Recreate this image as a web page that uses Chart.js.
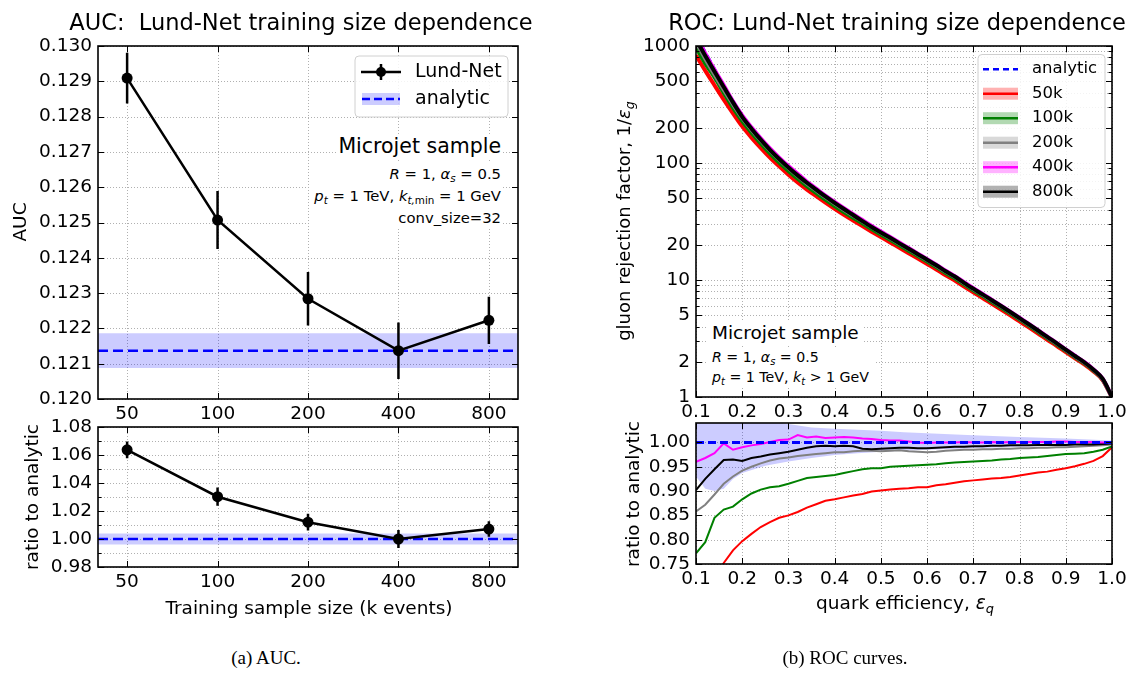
<!DOCTYPE html>
<html>
<head>
<meta charset="utf-8">
<script src="https://cdn.jsdelivr.net/npm/chart.js@4.4.0/dist/chart.umd.min.js"></script>
<style>
  body { margin: 0; width: 1131px; height: 675px; position: relative; overflow: hidden; background: #fff; font-family: "DejaVu Sans", sans-serif; color: #000; }
  canvas { position: absolute; }
  .t { position: absolute; white-space: nowrap; line-height: 1; }
  .c { transform: translate(-50%, -50%); }
  .v { transform: translate(-50%, -50%) rotate(-90deg); }
  .cap { font-family: "Liberation Serif", serif; font-size: 19px; }
  sub { font-size: 70%; vertical-align: -0.3em; line-height: 0; }
  .box { position: absolute; background: #fff; white-space: nowrap; }
</style>
</head>
<body>

<canvas id="cA"></canvas>
<canvas id="cB"></canvas>
<canvas id="cC"></canvas>
<canvas id="cD"></canvas>

<!-- titles / axis labels -->
<div class="t c" style="left:301px;top:22px;font-size:22.5px">AUC:&nbsp; Lund-Net training size dependence</div>
<div class="t c" style="left:897px;top:22px;font-size:22.5px">ROC: Lund-Net training size dependence</div>
<div class="t v" style="left:20px;top:222px;font-size:18.5px">AUC</div>
<div class="t v" style="left:32px;top:497px;font-size:18.5px">ratio to analytic</div>
<div class="t c" style="left:309px;top:608px;font-size:18.5px">Training sample size (k events)</div>
<div class="t v" style="left:624px;top:221px;font-size:18px">gluon rejection factor, 1/<i>ε<sub>g</sub></i></div>
<div class="t v" style="left:633px;top:494px;font-size:18.5px">ratio to analytic</div>
<div class="t c" style="left:905px;top:603px;font-size:18.5px">quark efficiency, <i>ε<sub>q</sub></i></div>
<div class="t c cap" style="left:266px;top:657px">(a) AUC.</div>
<div class="t c cap" style="left:845px;top:657px">(b) ROC curves.</div>

<!-- annotations -->
<div class="box" style="right:628px;top:134px;font-size:20.5px;line-height:25px;padding:0 2px">Microjet sample</div>
<div class="box" style="right:628px;top:163px;font-size:14.8px;line-height:22px;text-align:right;padding:0 2px 0 4px">
  <i>R</i> = 1, <i>α<sub>s</sub></i> = 0.5<br>
  <i>p<sub>t</sub></i> = 1 TeV, <i>k<sub>t,</sub></i><sub>min</sub> = 1 GeV<br>
  conv_size=32
</div>
<div class="box" style="left:708px;top:321px;font-size:18.5px;line-height:24px;padding:0 4px">Microjet sample</div>
<div class="box" style="left:708px;top:347px;font-size:14.2px;line-height:20px;padding:0 6px 0 4px">
  <i>R</i> = 1, <i>α<sub>s</sub></i> = 0.5<br>
  <i>p<sub>t</sub></i> = 1 TeV, <i>k<sub>t</sub></i> &gt; 1 GeV
</div>

<script>
// ---- AUC vs training size ----
const trainSizes = [50, 100, 200, 400, 800];
const aucXLimits = [40, 1000];
const aucLund = [0.12909, 0.12507, 0.12284, 0.12137, 0.12223];
const aucLundErr = [0.00072, 0.00082, 0.00076, 0.00080, 0.00067];
const aucAnalytic = 0.12137;
const aucAnalyticErr = 0.00049;
const aucYTicks = [0.120, 0.121, 0.122, 0.123, 0.124, 0.125, 0.126, 0.127, 0.128, 0.129, 0.130];

const ratioLund = [1.0637, 1.0302, 1.0120, 1.0000, 1.0071];
const ratioLundErr = [0.0060, 0.0065, 0.0060, 0.0065, 0.0055];
const ratioAnalytic = 1.0;
const ratioAnalyticErr = 0.004;
const ratioLeftTicks = [0.98, 1.00, 1.02, 1.04, 1.06, 1.08];
const ratioLeftMinor = [0.99, 1.01, 1.03, 1.05, 1.07];

// ---- ROC curves ----
const effQ = [0.10, 0.12, 0.14, 0.16, 0.18, 0.20, 0.22, 0.24, 0.26, 0.28,
              0.30, 0.32, 0.34, 0.36, 0.38, 0.40, 0.42, 0.44, 0.46, 0.48,
              0.50, 0.52, 0.54, 0.56, 0.58, 0.60, 0.62, 0.64, 0.66, 0.68,
              0.70, 0.72, 0.74, 0.76, 0.78, 0.80, 0.82, 0.84, 0.86, 0.88,
              0.90, 0.92, 0.94, 0.96, 0.98, 1.00];
const rejAnalytic = [1262, 893, 640, 463, 342, 258, 203, 163, 133, 110.7,
                     93.5, 79.6, 68.5, 59.7, 52.2, 46.0, 40.7, 36.2, 32.3, 28.8,
                     25.8, 23.2, 20.8, 18.7, 16.8, 15.1, 13.5, 12.0, 10.8, 9.55,
                     8.5, 7.6, 6.76, 6.03, 5.36, 4.75, 4.21, 3.72, 3.28, 2.9,
                     2.55, 2.25, 1.99, 1.72, 1.43, 1.0];
const ratio50k = [0.660, 0.690, 0.722, 0.752, 0.778, 0.797, 0.812, 0.826, 0.836, 0.845,
                  0.850, 0.857, 0.866, 0.873, 0.880, 0.883, 0.887, 0.891, 0.894, 0.899,
                  0.901, 0.903, 0.905, 0.906, 0.908, 0.908, 0.912, 0.914, 0.917, 0.920,
                  0.922, 0.924, 0.926, 0.927, 0.929, 0.932, 0.935, 0.938, 0.940, 0.944,
                  0.947, 0.951, 0.956, 0.962, 0.972, 0.990];
const ratio100k = [0.772, 0.795, 0.845, 0.862, 0.868, 0.883, 0.895, 0.903, 0.908, 0.910,
                   0.915, 0.921, 0.927, 0.929, 0.931, 0.933, 0.937, 0.941, 0.945, 0.947,
                   0.947, 0.950, 0.951, 0.952, 0.953, 0.954, 0.955, 0.957, 0.959, 0.960,
                   0.961, 0.962, 0.963, 0.965, 0.966, 0.968, 0.969, 0.970, 0.972, 0.974,
                   0.976, 0.977, 0.978, 0.981, 0.985, 0.992];
const ratio200k = [0.858, 0.872, 0.893, 0.915, 0.930, 0.942, 0.950, 0.957, 0.963, 0.967,
                   0.969, 0.972, 0.974, 0.976, 0.978, 0.980, 0.980, 0.982, 0.983, 0.983,
                   0.982, 0.983, 0.984, 0.982, 0.981, 0.980, 0.981, 0.983, 0.984, 0.985,
                   0.985, 0.986, 0.986, 0.987, 0.987, 0.988, 0.988, 0.989, 0.989, 0.990,
                   0.990, 0.991, 0.992, 0.993, 0.994, 0.996];
const ratio400k = [0.960, 0.968, 0.978, 0.998, 0.985, 0.990, 0.994, 0.997, 1.001, 1.005,
                   1.006, 1.015, 1.010, 1.012, 1.009, 1.010, 1.011, 1.010, 1.008, 1.007,
                   1.005, 1.004, 1.004, 1.002, 1.000, 0.999, 1.000, 1.000, 1.000, 1.001,
                   1.000, 1.000, 1.001, 1.000, 1.001, 1.001, 1.001, 1.001, 1.001, 1.002,
                   1.002, 1.001, 1.001, 1.001, 1.000, 1.000];
const ratio800k = [0.902, 0.925, 0.945, 0.964, 0.965, 0.962, 0.968, 0.971, 0.975, 0.978,
                   0.981, 0.985, 0.989, 0.992, 0.993, 0.992, 0.993, 0.992, 0.987, 0.986,
                   0.987, 0.988, 0.989, 0.989, 0.988, 0.988, 0.989, 0.990, 0.991, 0.991,
                   0.992, 0.992, 0.993, 0.993, 0.994, 0.994, 0.994, 0.995, 0.995, 0.995,
                   0.995, 0.996, 0.996, 0.996, 0.997, 0.998];
const bandEff = [0.10, 0.12, 0.14, 0.16, 0.18, 0.20, 0.25, 0.30, 0.35, 0.40, 0.45, 0.50, 0.55, 0.60, 0.70, 0.80, 0.90, 1.00];
const bandLo  = [0.930, 0.905, 0.900, 0.905, 0.925, 0.937, 0.952, 0.961, 0.968, 0.974, 0.978, 0.981, 0.983, 0.985, 0.988, 0.991, 0.994, 0.997];
const bandHi  = [1.100, 1.090, 1.080, 1.070, 1.060, 1.055, 1.045, 1.038, 1.031, 1.028, 1.026, 1.024, 1.021, 1.019, 1.015, 1.011, 1.008, 1.004];

const rocXLimits = [0.1, 1.0];
const rocXTicks = [0.1, 0.2, 0.3, 0.4, 0.5, 0.6, 0.7, 0.8, 0.9, 1.0];
const rocYTicks = [1, 2, 5, 10, 20, 50, 100, 200, 500, 1000];
const rocYMinor = [3, 4, 6, 7, 8, 9, 30, 40, 60, 70, 80, 90, 300, 400, 600, 700, 800, 900];
const ratioRightTicks = [0.75, 0.80, 0.85, 0.90, 0.95, 1.00];
const rocLabels = ['analytic', '50k', '100k', '200k', '400k', '800k'];

// ---- helpers ----
const pts = (xs, ys) => xs.map((x, i) => ({ x, y: ys[i] }));
const FONT = 'DejaVu Sans';
const TICK = 18.5;

function line(data, color, width, extra) {
  return Object.assign({ data, borderColor: color, backgroundColor: color, borderWidth: width,
    pointRadius: 0, fill: false, tension: 0 }, extra || {});
}

function axis(type, min, max, ticks, fmt, fixed, isX) {
  return {
    type, min, max, bounds: 'data',
    grid: { display: false, drawTicks: false },
    border: { display: false },
    ticks: { autoSkip: false, maxRotation: 0, minRotation: 0, padding: isX ? 4 : 6, color: '#000',
      font: { family: FONT, size: TICK }, callback: fmt },
    afterBuildTicks: s => { s.ticks = ticks.map(v => ({ value: v })); },
    afterFit: s => {
      if (isX) { s.height = fixed; s.paddingLeft = 0; s.paddingRight = 0; }
      else { s.width = fixed; s.paddingTop = 0; s.paddingBottom = 0; }
    }
  };
}

function frame(g) {
  return {
    id: 'frame',
    beforeDatasetsDraw(chart) {
      const { ctx, chartArea: a, scales: { x, y } } = chart;
      ctx.save();
      ctx.strokeStyle = '#b0b0b0'; ctx.lineWidth = 1; ctx.setLineDash([1, 2]);
      ctx.beginPath();
      g.xGrid.forEach(v => { const p = Math.round(x.getPixelForValue(v)) + 0.5; ctx.moveTo(p, a.top); ctx.lineTo(p, a.bottom); });
      g.yGrid.forEach(v => { const p = Math.round(y.getPixelForValue(v)) + 0.5; ctx.moveTo(a.left, p); ctx.lineTo(a.right, p); });
      ctx.stroke();
      ctx.restore();
    },
    afterDraw(chart) {
      const { ctx, chartArea: a, scales: { x, y } } = chart;
      ctx.save();
      ctx.strokeStyle = '#000'; ctx.lineWidth = 1;
      ctx.beginPath();
      const tx = (vals, len) => vals.forEach(v => {
        const p = Math.round(x.getPixelForValue(v)) + 0.5;
        ctx.moveTo(p, a.bottom); ctx.lineTo(p, a.bottom - len);
        ctx.moveTo(p, a.top); ctx.lineTo(p, a.top + len);
      });
      const ty = (vals, len) => vals.forEach(v => {
        const p = Math.round(y.getPixelForValue(v)) + 0.5;
        ctx.moveTo(a.left, p); ctx.lineTo(a.left + len, p);
        ctx.moveTo(a.right, p); ctx.lineTo(a.right - len, p);
      });
      tx(g.xMajor, 6); tx(g.xMinor || [], 3.5);
      ty(g.yMajor, 6); ty(g.yMinor || [], 3.5);
      ctx.stroke();
      ctx.lineWidth = 1.6;
      ctx.strokeRect(a.left, a.top, a.right - a.left, a.bottom - a.top);
      ctx.restore();
    }
  };
}

function errorBars(xs, ys, errs) {
  return {
    id: 'errorBars',
    afterDatasetsDraw(chart) {
      const { ctx, scales: { x, y } } = chart;
      ctx.save();
      ctx.strokeStyle = '#000'; ctx.lineWidth = 2.5;
      ctx.beginPath();
      xs.forEach((v, i) => {
        const px = x.getPixelForValue(v);
        ctx.moveTo(px, y.getPixelForValue(ys[i] - errs[i]));
        ctx.lineTo(px, y.getPixelForValue(ys[i] + errs[i]));
      });
      ctx.stroke();
      ctx.restore();
    }
  };
}

function legendBox(ctx, L, T, W, H) {
  ctx.beginPath();
  ctx.roundRect(L, T, W, H, 4);
  ctx.fillStyle = 'rgba(255,255,255,0.85)'; ctx.fill();
  ctx.strokeStyle = '#d0d0d0'; ctx.lineWidth = 1; ctx.stroke();
}

const legendAUC = {
  id: 'legendAUC',
  afterDraw(chart) {
    const { ctx, chartArea: a } = chart;
    const L = a.right - 163, T = a.top + 10;
    ctx.save();
    legendBox(ctx, L, T, 153, 61);
    const y1 = T + 16, y2 = T + 43;
    ctx.strokeStyle = '#000'; ctx.lineWidth = 2.5;
    ctx.beginPath();
    ctx.moveTo(L + 6, y1); ctx.lineTo(L + 46, y1);
    ctx.moveTo(L + 26, y1 - 8); ctx.lineTo(L + 26, y1 + 8);
    ctx.stroke();
    ctx.fillStyle = '#000'; ctx.beginPath(); ctx.arc(L + 26, y1, 5, 0, Math.PI * 2); ctx.fill();
    ctx.fillStyle = 'rgba(0,0,255,0.2)'; ctx.fillRect(L + 7, y2 - 6, 38, 12);
    ctx.strokeStyle = '#0000ff'; ctx.setLineDash([8, 4]);
    ctx.beginPath(); ctx.moveTo(L + 7, y2); ctx.lineTo(L + 45, y2); ctx.stroke();
    ctx.setLineDash([]);
    ctx.fillStyle = '#000'; ctx.font = '19px "' + FONT + '"'; ctx.textBaseline = 'middle';
    ctx.fillText('Lund-Net', L + 60, y1);
    ctx.fillText('analytic', L + 60, y2);
    ctx.restore();
  }
};

const rocColors = ['#0000ff', '#ff0000', '#008000', '#808080', '#ff00ff', '#000000'];
const rocBands = [null, 'rgba(255,0,0,0.3)', 'rgba(0,128,0,0.3)', 'rgba(128,128,128,0.3)', 'rgba(255,0,255,0.3)', 'rgba(0,0,0,0.3)'];

const legendROC = {
  id: 'legendROC',
  afterDraw(chart) {
    const { ctx, chartArea: a } = chart;
    const L = a.right - 134, T = a.top + 8.5;
    ctx.save();
    legendBox(ctx, L, T, 127, 153);
    ctx.font = '16.5px "' + FONT + '"'; ctx.textBaseline = 'middle';
    rocLabels.forEach((lab, i) => {
      const yy = T + 14.7 + i * 24.5;
      if (rocBands[i]) { ctx.fillStyle = rocBands[i]; ctx.fillRect(L + 5, yy - 6, 35, 12); }
      ctx.strokeStyle = rocColors[i]; ctx.lineWidth = 2.5;
      ctx.setLineDash(i === 0 ? [6, 4] : []);
      ctx.beginPath(); ctx.moveTo(L + 5, yy); ctx.lineTo(L + 40, yy); ctx.stroke();
      ctx.setLineDash([]);
      ctx.fillStyle = '#000'; ctx.fillText(lab, L + 54, yy);
    });
    ctx.restore();
  }
};

function place(id, plot, yW, xH) {
  const c = document.getElementById(id);
  const padT = 14, padR = 30;
  c.width = yW + plot.w + padR;
  c.height = padT + plot.h + xH;
  c.style.left = (plot.l - yW) + 'px';
  c.style.top = (plot.t - padT) + 'px';
  return { padding: { left: 0, top: padT, right: padR, bottom: 0 } };
}

const base = { responsive: false, animation: false, events: [],
  plugins: { legend: { display: false }, tooltip: { enabled: false } } };

// ---- panel A: AUC ----
const plotA = { l: 98, t: 46, w: 420, h: 353.5 };
new Chart(document.getElementById('cA'), {
  type: 'line',
  data: { datasets: [
    line(pts(trainSizes, aucLund), '#000', 2.5, { pointRadius: 5.5, pointBorderWidth: 0, pointBackgroundColor: '#000' }),
    line(pts(aucXLimits, [aucAnalytic, aucAnalytic]), '#0000ff', 2.5, { borderDash: [10, 5] }),
    line(pts(aucXLimits, [aucAnalytic + aucAnalyticErr, aucAnalytic + aucAnalyticErr]), 'rgba(0,0,0,0)', 0, { fill: '+1', backgroundColor: 'rgba(0,0,255,0.2)' }),
    line(pts(aucXLimits, [aucAnalytic - aucAnalyticErr, aucAnalytic - aucAnalyticErr]), 'rgba(0,0,0,0)', 0)
  ] },
  options: Object.assign({}, base, {
    layout: place('cA', plotA, 70, 30),
    scales: {
      x: axis('logarithmic', aucXLimits[0], aucXLimits[1], trainSizes, v => String(v), 30, true),
      y: axis('linear', 0.120, 0.130, aucYTicks, v => v.toFixed(3), 70, false)
    }
  }),
  plugins: [frame({ xGrid: trainSizes, yGrid: aucYTicks, xMajor: trainSizes, yMajor: aucYTicks }),
            errorBars(trainSizes, aucLund, aucLundErr), legendAUC]
});

// ---- panel B: AUC ratio ----
const plotB = { l: 98, t: 426.7, w: 420, h: 140.6 };
new Chart(document.getElementById('cB'), {
  type: 'line',
  data: { datasets: [
    line(pts(trainSizes, ratioLund), '#000', 2.5, { pointRadius: 5.5, pointBorderWidth: 0, pointBackgroundColor: '#000' }),
    line(pts(aucXLimits, [ratioAnalytic, ratioAnalytic]), '#0000ff', 2.5, { borderDash: [10, 5] }),
    line(pts(aucXLimits, [ratioAnalytic + ratioAnalyticErr, ratioAnalytic + ratioAnalyticErr]), 'rgba(0,0,0,0)', 0, { fill: '+1', backgroundColor: 'rgba(0,0,255,0.2)' }),
    line(pts(aucXLimits, [ratioAnalytic - ratioAnalyticErr, ratioAnalytic - ratioAnalyticErr]), 'rgba(0,0,0,0)', 0)
  ] },
  options: Object.assign({}, base, {
    layout: place('cB', plotB, 70, 30),
    scales: {
      x: axis('logarithmic', aucXLimits[0], aucXLimits[1], trainSizes, v => String(v), 30, true),
      y: axis('linear', 0.98, 1.08, ratioLeftTicks, v => v.toFixed(2), 70, false)
    }
  }),
  plugins: [frame({ xGrid: trainSizes, yGrid: ratioLeftTicks.concat(ratioLeftMinor), xMajor: trainSizes,
                    yMajor: ratioLeftTicks, yMinor: ratioLeftMinor }),
            errorBars(trainSizes, ratioLund, ratioLundErr)]
});

// ---- panel C: ROC ----
const rocRatios = [ratio50k, ratio100k, ratio200k, ratio400k, ratio800k];
const rocModel = rocRatios.map(r => rejAnalytic.map((v, i) => v * r[i]));
const smooth = { cubicInterpolationMode: 'monotone' };
const plotC = { l: 696, t: 45.5, w: 416, h: 351.5 };
new Chart(document.getElementById('cC'), {
  type: 'line',
  data: { datasets: [
    line(pts(effQ, rocModel[4]), rocColors[5], 4, smooth),
    line(pts(effQ, rocModel[3]), rocColors[4], 4, smooth),
    line(pts(effQ, rocModel[2]), rocColors[3], 4, smooth),
    line(pts(effQ, rocModel[1]), rocColors[2], 4, smooth),
    line(pts(effQ, rocModel[0]), rocColors[1], 4, smooth),
    line(pts(effQ, rejAnalytic), rocColors[0], 2.5, Object.assign({ borderDash: [8, 4] }, smooth))
  ] },
  options: Object.assign({}, base, {
    layout: place('cC', plotC, 60, 28),
    scales: {
      x: axis('linear', rocXLimits[0], rocXLimits[1], rocXTicks, v => v.toFixed(1), 28, true),
      y: axis('logarithmic', 1, 1000, rocYTicks, v => String(v), 60, false)
    }
  }),
  plugins: [frame({ xGrid: rocXTicks, yGrid: rocYTicks.concat(rocYMinor), xMajor: rocXTicks,
                    yMajor: rocYTicks, yMinor: rocYMinor }), legendROC]
});

// ---- panel D: ROC ratio ----
const plotD = { l: 696, t: 423, w: 416, h: 141 };
new Chart(document.getElementById('cD'), {
  type: 'line',
  data: { datasets: [
    line(pts(rocXLimits, [1, 1]), rocColors[0], 3, { borderDash: [8, 4] }),
    line(pts(effQ, ratio400k), rocColors[4], 2),
    line(pts(effQ, ratio800k), rocColors[5], 2),
    line(pts(effQ, ratio200k), rocColors[3], 2),
    line(pts(effQ, ratio100k), rocColors[2], 2),
    line(pts(effQ, ratio50k), rocColors[1], 2),
    line(pts(bandEff, bandHi), 'rgba(0,0,0,0)', 0, { fill: '+1', backgroundColor: 'rgba(0,0,255,0.2)' }),
    line(pts(bandEff, bandLo), 'rgba(0,0,0,0)', 0)
  ] },
  options: Object.assign({}, base, {
    layout: place('cD', plotD, 60, 28),
    scales: {
      x: axis('linear', rocXLimits[0], rocXLimits[1], rocXTicks, v => v.toFixed(1), 28, true),
      y: axis('linear', 0.75, 1.04, ratioRightTicks, v => v.toFixed(2), 60, false)
    }
  }),
  plugins: [frame({ xGrid: rocXTicks, yGrid: ratioRightTicks, xMajor: rocXTicks, yMajor: ratioRightTicks })]
});
</script>
</body>
</html>
